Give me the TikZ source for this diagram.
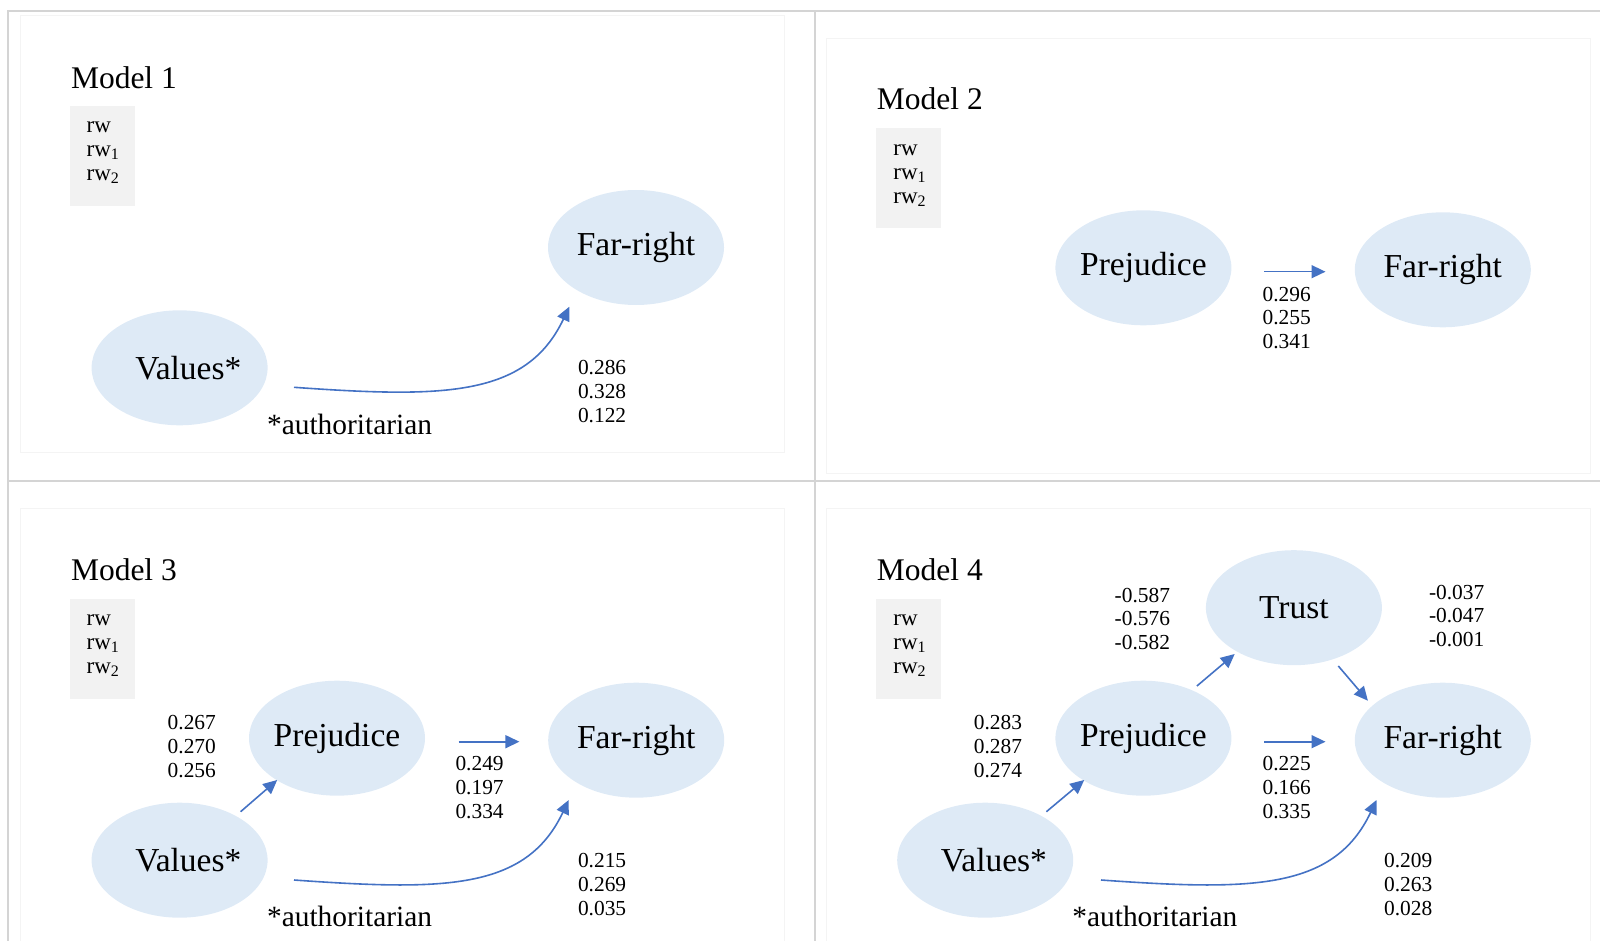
\documentclass[tikz,border=0pt]{standalone}
\usepackage{fontspec}
\setmainfont{Liberation Serif}
\usetikzlibrary{shapes.geometric,arrows.meta,calc}
\definecolor{nodefill}{HTML}{DEEAF6}
\definecolor{arrowblue}{HTML}{4472C4}
\definecolor{gridgrey}{HTML}{D4D4D4}
\definecolor{innergrey}{HTML}{F4F4F4}
\definecolor{legendgrey}{HTML}{F2F2F2}
\newcommand{\lsub}[1]{\raisebox{-0.12em}{\fontsize{8}{8}\selectfont #1}}
\newcommand{\numstack}[6]{%
  \node[num] (#1a) at (#2,#3) {#4};
  \node[num] (#1b) at (#2,#3+23.8) {#5};
  \node[num] (#1c) at (#2,#3+47.6) {#6};}
\newcommand{\rwstack}[3]{%
  \node[rwtext] (#1a) at (#2,#3) {rw};
  \node[rwtext] (#1b) at (#2,#3+24) {rw\lsub{1}};
  \node[rwtext] (#1c) at (#2,#3+48) {rw\lsub{2}};}
\begin{document}
\begin{tikzpicture}[x=0.5pt,y=-0.5pt,
  latent/.style={ellipse, fill=nodefill, draw=none, minimum width=88pt, minimum height=57.5pt,
    inner xsep=-6pt, inner ysep=0pt, font=\fontsize{16.75}{20}\selectfont},
  title/.style={anchor=base west, inner sep=0pt, font=\fontsize{15.75}{19}\selectfont},
  num/.style={anchor=base west, inner sep=0pt, font=\fontsize{10.7}{12}\selectfont},
  rwtext/.style={anchor=base west, inner sep=0pt, font=\fontsize{11.5}{12}\selectfont},
  note/.style={anchor=base west, inner sep=0pt, font=\fontsize{14.7}{17}\selectfont},
  legend/.style={fill=legendgrey, draw=none, inner sep=0pt, minimum width=32.5pt, minimum height=50pt},
  arr/.style={draw=arrowblue, line width=0.8pt, -{Triangle[length=7pt,width=6.5pt]}},
  gridline/.style={draw=gridgrey, line width=1pt},
  innerbox/.style={draw=innergrey, line width=0.5pt},
]
\useasboundingbox (0,0) rectangle (1600,941);
% table grid
\draw[gridline] (8.3,941) -- (8.3,10.7) -- (1600,10.7);
\draw[gridline] (815,10.7) -- (815,941);
\draw[gridline] (8.3,480.7) -- (1600,480.7);
% inner panel frames
\draw[innerbox] (20,15.7) rectangle (784,452);
\draw[innerbox] (826,39) rectangle (1590,473);
\draw[innerbox] (20,945) -- (20,508) -- (784,508) -- (784,945);
\draw[innerbox] (826,945) -- (826,508) -- (1590,508) -- (1590,945);

% ---------------- Model 1
\node[title] (t1) at (70.6,88.3) {Model 1};
\node[legend] (lg1) at (102.75,155.9) {};
\rwstack{rwA}{86.3}{132.7}
\node[latent] (far1) at (636,247.5) {Far-right};
\node[latent] (val1) at (179.6,367.8) {\kern8.7pt Values*};
\draw[arr] ($(val1)+(114.4,19.5)$) .. controls +(150,10.7) and +(-42.8,90.4) .. ($(far1)+(-66.7,59.2)$);
\node[note] (au1) at (266.7,434) {*authoritarian};
\numstack{nA}{577.6}{374.5}{0.286}{0.328}{0.122}

% ---------------- Model 2
\node[title] (t2) at (876.5,110) {Model 2};
\node[legend] (lg2) at (908.9,178.3) {};
\rwstack{rwB}{893}{155.3}
\node[latent] (pre2) at (1143.4,267.8) {\raisebox{-1.5pt}{Prejudice}};
\node[latent] (far2) at (1442.8,269.8) {Far-right};
\draw[arr] ($(pre2)+(121,3.9)$) -- ($(far2)+(-117.3,1.9)$);
\numstack{nB}{1262.2}{301}{0.296}{0.255}{0.341}

% ---------------- Model 3
\node[title] (t3) at (70.6,580) {Model 3};
\node[legend] (lg3) at (102.75,648.5) {};
\rwstack{rwC}{86.3}{625.7}
\node[latent] (pre3) at (337,738.2) {\raisebox{-1.5pt}{Prejudice}};
\node[latent] (far3) at (636.2,740.2) {Far-right};
\node[latent] (val3) at (179.6,860.2) {\kern8.7pt Values*};
\draw[arr] ($(pre3)+(121.7,3.5)$) -- ($(far3)+(-116.8,1.5)$);
\draw[arr] ($(val3)+(61,-48.5)$) -- ($(pre3)+(-59.8,41.8)$);
\draw[arr] ($(val3)+(114.4,19.8)$) .. controls +(150,10.7) and +(-42.8,90.4) .. ($(far3)+(-67.5,59.8)$);
\node[note] (au3) at (266.7,926) {*authoritarian};
\numstack{nC}{167.3}{729.6}{0.267}{0.270}{0.256}
\numstack{nD}{455.1}{770.5}{0.249}{0.197}{0.334}
\numstack{nE}{577.6}{867.4}{0.215}{0.269}{0.035}

% ---------------- Model 4
\node[title] (t4) at (876.5,580) {Model 4};
\node[legend] (lg4) at (908.9,648.5) {};
\rwstack{rwD}{893}{625.7}
\node[latent] (tru4) at (1293.9,607.7) {Trust};
\node[latent] (pre4) at (1143.4,738.2) {\raisebox{-1.5pt}{Prejudice}};
\node[latent] (far4) at (1442.8,740.2) {Far-right};
\node[latent] (val4) at (985.2,860.2) {\kern8.7pt Values*};
\draw[arr] ($(pre4)+(53.5,-52.2)$) -- ($(tru4)+(-59.2,46.3)$);
\draw[arr] ($(tru4)+(44.4,58.3)$) -- ($(far4)+(-74.9,-39.5)$);
\draw[arr] ($(pre4)+(121,3.5)$) -- ($(far4)+(-117.3,1.5)$);
\draw[arr] ($(val4)+(61.2,-48.5)$) -- ($(pre4)+(-59.2,41.8)$);
\draw[arr] ($(val4)+(115.8,19.8)$) .. controls +(150,10.7) and +(-42.8,90.4) .. ($(far4)+(-66.3,59.8)$);
\node[note] (au4) at (1072,926) {*authoritarian};
\numstack{nF}{1114.3}{602}{-0.587}{-0.576}{-0.582}
\numstack{nG}{1428.6}{599}{-0.037}{-0.047}{-0.001}
\numstack{nH}{973.5}{729.6}{0.283}{0.287}{0.274}
\numstack{nI}{1262.2}{770.5}{0.225}{0.166}{0.335}
\numstack{nJ}{1383.7}{867.4}{0.209}{0.263}{0.028}
\end{tikzpicture}
\end{document}
